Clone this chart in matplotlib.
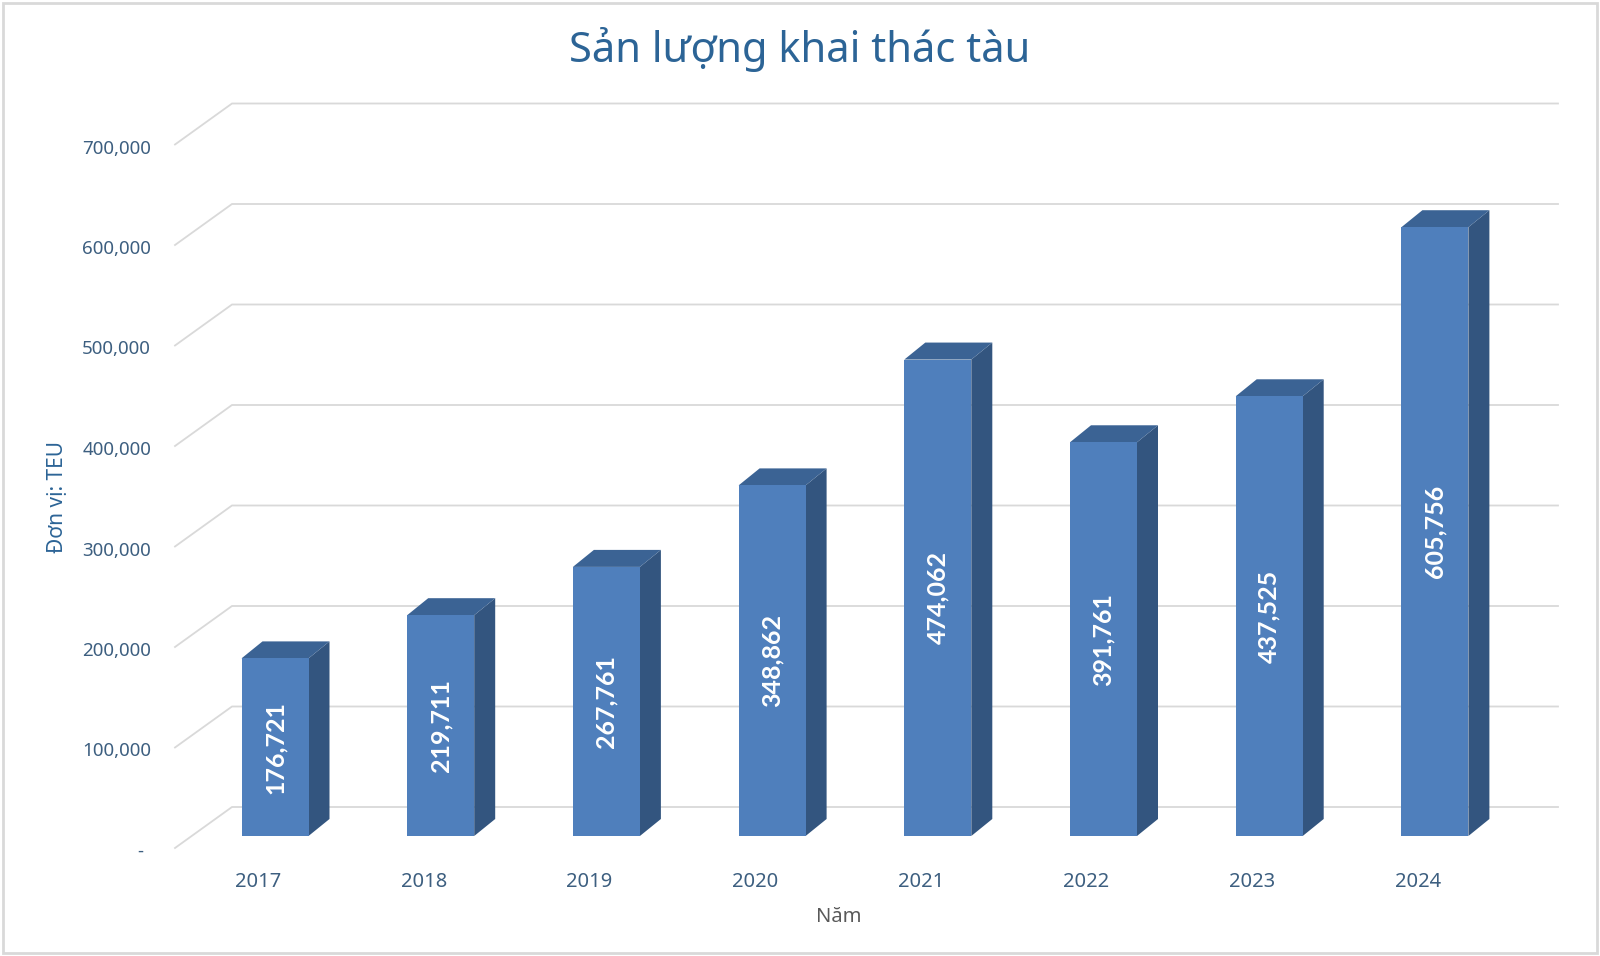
import numpy as np
import matplotlib
import matplotlib.pyplot as plt
from matplotlib.patches import Polygon, Rectangle

matplotlib.use('Agg')
plt.rcParams['font.family'] = ['Noto Sans', 'DejaVu Sans']

years = ['2017', '2018', '2019', '2020', '2021', '2022', '2023', '2024']
teu = [176721, 219711, 267761, 348862, 474062, 391761, 437525, 605756]
y_ticks = [0, 100000, 200000, 300000, 400000, 500000, 600000, 700000]
y_tick_labels = ['-', '100,000', '200,000', '300,000', '400,000', '500,000', '600,000', '700,000']

title_color = '#2c6496'
tick_color = '#3d5f80'
front_color = '#4f7fbc'
side_color = '#33557f'
top_color = '#3b6394'
grid_color = '#d9d9d9'

# pixel scale helpers (figure is 1600 x 956 px, dpi 100)
px_x = 1 / 165.7          # category units per pixel
px_y = 100000 / 100.5     # value units per pixel

fig = plt.figure(figsize=(16, 9.56), dpi=100)
ax = fig.add_axes([0, 0, 1, 1])
ax.set_xlim(-275 * px_x, 1325 * px_x)
ax.set_ylim(-120 * px_y, 836 * px_y)
ax.axis('off')

# frame around chart
fig.patches.append(Rectangle((0.002, 0.003), 0.996, 0.994, transform=fig.transFigure,
                             fill=False, edgecolor='#d9d9d9', linewidth=2))

# 3D gridlines: diagonal floor-side part then back wall line
x_front = -100 * px_x
x_back = -43 * px_x
x_right = 1283 * px_x
d_front = 12 * px_y
d_back = 29 * px_y
for v in y_ticks:
    ax.plot([x_front, x_back, x_right], [v - d_front, v + d_back, v + d_back],
            color=grid_color, linewidth=1.3, zorder=1, solid_joinstyle='miter')

for v, lab in zip(y_ticks, y_tick_labels):
    if lab == '-':
        ax.text(-135 * px_x, v - d_front - 4 * px_y, lab, ha='center', va='center',
                fontsize=13.5, color=tick_color)
    else:
        ax.text(-124 * px_x, v - d_front - 4 * px_y, lab, ha='right', va='center',
                fontsize=13.5, color=tick_color)

# bars with depth
half_w = 33.5 * px_x
ddx = 21 * px_x
ddy = 17 * px_y
for i, v in enumerate(teu):
    ax.add_patch(Polygon([(i + half_w, 0), (i + half_w + ddx, ddy),
                          (i + half_w + ddx, v + ddy), (i + half_w, v)],
                         closed=True, facecolor=side_color, edgecolor='none', zorder=3))
    ax.add_patch(Polygon([(i - half_w, v), (i + half_w, v),
                          (i + half_w + ddx, v + ddy), (i - half_w + ddx, v + ddy)],
                         closed=True, facecolor=top_color, edgecolor='none', zorder=3))
    ax.add_patch(Rectangle((i - half_w, 0), 2 * half_w, v, facecolor=front_color,
                           edgecolor='none', zorder=4))
    ax.text(i, v / 2, f'{v:,}', rotation=90, ha='center', va='center',
            fontsize=18, fontweight='bold', color='white', zorder=5,
            family=['Lato', 'DejaVu Sans'])
    ax.text(i - 17 * px_x, -46 * px_y, years[i], ha='center', va='center',
            fontsize=14.5, color=tick_color)

fig.text(0.5, 1 - 49 / 956, 'Sản lượng khai thác tàu', ha='center', va='center',
         fontsize=30, color=title_color)
fig.text(839 / 1600, 1 - 917 / 956, 'Năm', ha='center', va='center',
         fontsize=14.5, color='#595959')
fig.text(58 / 1600, 1 - 497 / 956, 'Đơn vị: TEU', ha='center', va='center',
         rotation=90, fontsize=15, color=title_color)

fig.savefig('out.png', dpi=100, facecolor='white')
